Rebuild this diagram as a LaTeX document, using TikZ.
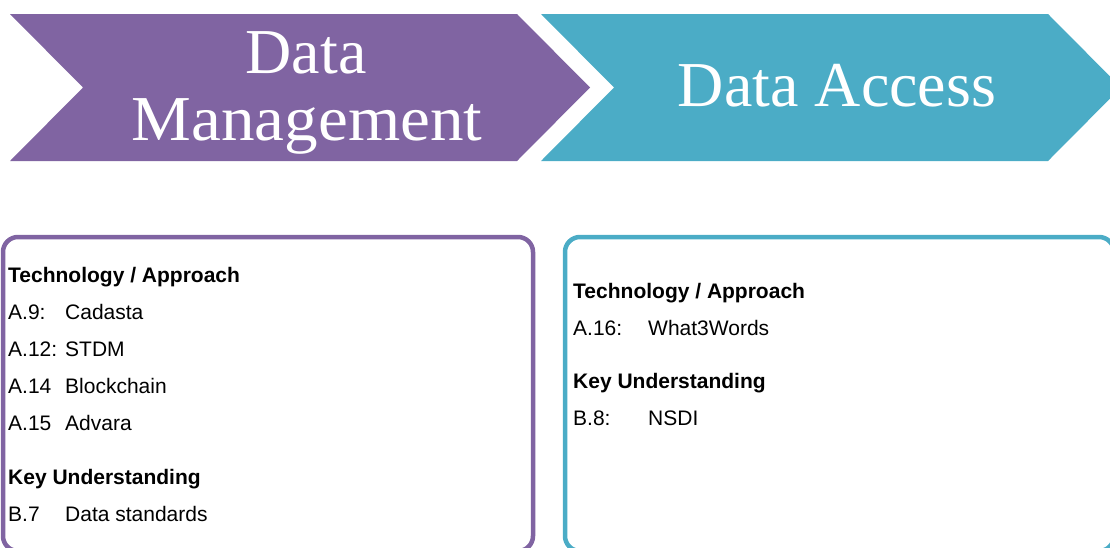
\documentclass[tikz,border=0pt]{standalone}
\usepackage{fontspec}
\setmainfont{Liberation Serif}
\newfontfamily\arialfont{Liberation Sans}
\definecolor{dmpurple}{HTML}{8064A2}
\definecolor{dateal}{HTML}{4BACC6}
\tikzset{
  chevtext/.style={text=white, inner sep=0pt, anchor=base, font=\fontsize{64}{64}\selectfont},
  panel/.style={line width=4.5pt, rounded corners=15pt},
  head/.style={inner sep=0pt, anchor=base west, font=\arialfont\bfseries\fontsize{21}{21}\selectfont},
  item/.style={inner sep=0pt, anchor=base west, font=\arialfont\fontsize{21}{21}\selectfont},
}
\begin{document}
\begin{tikzpicture}[x=1pt,y=-1pt]
\useasboundingbox (0,0) rectangle (1110,547);
\clip (0,0) rectangle (1110,547);
% chevrons
\fill[dmpurple] (10,14) -- (517,14) -- (590,87.5) -- (517,161) -- (10,161) -- (83,87.5) -- cycle;
\fill[dateal] (541,14) -- (1048,14) -- (1121,87.5) -- (1048,161) -- (541,161) -- (614,87.5) -- cycle;
\node[chevtext] (dmtop) at (306,73) {Data};
\node[chevtext] (dmbot) at (307,140) {\scalebox{1.05}[1]{Management}};
\node[chevtext] (da) at (837,106) {Data Access};
% panels
\draw[panel, dmpurple] (3,237) rectangle (533,551);
\draw[panel, dateal] (565,237) rectangle (1114,551);
% left panel text
\node[head] (lh1) at (8,282) {Technology / Approach};
\node[item] (la9) at (8,319) {A.9:};
\node[item] (lv9) at (65,319) {Cadasta};
\node[item] (la12) at (8,356) {A.12:};
\node[item] (lv12) at (65,356) {STDM};
\node[item] (la14) at (8,393) {A.14};
\node[item] (lv14) at (65,393) {Blockchain};
\node[item] (la15) at (8,430) {A.15};
\node[item] (lv15) at (65,430) {Advara};
\node[head] (lh2) at (8,484) {Key Understanding};
\node[item] (lb7) at (8,521) {B.7};
\node[item] (lvb7) at (65,521) {Data standards};
% right panel text
\node[head] (rh1) at (573,298) {Technology / Approach};
\node[item] (ra16) at (573,335) {A.16:};
\node[item] (rv16) at (648,335) {What3Words};
\node[head] (rh2) at (573,388) {Key Understanding};
\node[item] (rb8) at (573,425) {B.8:};
\node[item] (rvb8) at (648,425) {NSDI};
\end{tikzpicture}
\end{document}
